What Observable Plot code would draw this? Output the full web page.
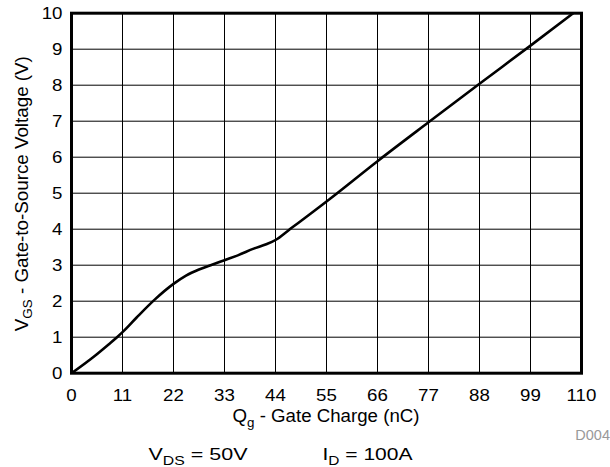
<!DOCTYPE html>
<html><head><meta charset="utf-8">
<script src="https://cdn.jsdelivr.net/npm/d3@7"></script>
<script src="https://cdn.jsdelivr.net/npm/@observablehq/plot@0.6"></script>
<style>
body{margin:0;background:#fff;font-family:"Liberation Sans",Arial,Helvetica,sans-serif;}
#wrap{width:610px;height:467px;}
</style></head><body><div id="wrap"></div>
<script>
const charge  = [0, 5, 8, 10, 11, 14, 18, 22, 24.7, 27.5, 30, 33, 36, 39.3, 42, 44, 46.9, 55.5, 66, 77, 88, 99, 108.2];
const voltage = [0, 0.48, 0.8, 1.02, 1.14, 1.54, 2.05, 2.48, 2.71, 2.88, 3.0, 3.14, 3.28, 3.46, 3.58, 3.7, 3.98, 4.82, 5.89, 6.97, 8.04, 9.1, 10];
const xTicks = [0, 11, 22, 33, 44, 55, 66, 77, 88, 99, 110];
const yTicks = [0, 1, 2, 3, 4, 5, 6, 7, 8, 9, 10];
const xLabel = ["Q", "g", " - Gate Charge (nC)"];
const yLabel = ["V", "GS", " - Gate-to-Source Voltage (V)"];
const note1 = ["V", "DS", " = 50V"];
const note2 = ["I", "D", " = 100A"];
const figId = "D004";

const data = charge.map((c, i) => ({q: c, v: voltage[i]}));
const font = '"Liberation Sans", Arial, Helvetica, sans-serif';

const chart = Plot.plot({
  width: 610,
  height: 467,
  marginLeft: 71,
  marginRight: 29,
  marginTop: 12.7,
  marginBottom: 94.3,
  style: {fontFamily: font, fontSize: "17px", color: "#000", background: "#fff", overflow: "visible"},
  x: {domain: [0, 110]},
  y: {domain: [0, 10]},
  marks: [
    Plot.gridX(xTicks, {stroke: "#000", strokeOpacity: 1, strokeWidth: 1}),
    Plot.gridY(yTicks, {stroke: "#000", strokeOpacity: 1, strokeWidth: 1}),
    Plot.line(data, {x: "q", y: "v", stroke: "#000", strokeWidth: 2.6, curve: "monotone-x", clip: true}),
    Plot.frame({stroke: "#000", strokeWidth: 3}),
    Plot.axisX(xTicks, {tickSize: 0, tickPadding: 16, label: null, fontSize: 17, tickFormat: d => String(d)}),
    Plot.axisY(yTicks, {tickSize: 0, tickPadding: 9, label: null, fontSize: 17, tickFormat: d => String(d)})
  ]
});
document.getElementById("wrap").appendChild(chart);

const sx = chart.scale("x"), sy = chart.scale("y");
const svg = d3.select(chart);
const cx = (sx.range[0] + sx.range[1]) / 2;
const cy = (sy.range[0] + sy.range[1]) / 2;

// widen tick labels slightly (the reference face is wider than Arial)
svg.selectAll("g[aria-label$='tick label'] text").each(function() {
  const L = this.getComputedTextLength();
  d3.select(this).attr("textLength", L * 1.1).attr("lengthAdjust", "spacingAndGlyphs");
});

function subText(g, parts, size, subSize, targetLen) {
  const t = g.append("text").attr("font-family", font).attr("font-size", size).attr("fill", "#000");
  t.append("tspan").text(parts[0]);
  t.append("tspan").attr("font-size", subSize).attr("dy", 4.5).text(parts[1]);
  t.append("tspan").attr("dy", -4.5).text(parts[2]);
  t.attr("textLength", targetLen).attr("lengthAdjust", "spacingAndGlyphs");
  return t;
}

subText(svg, xLabel, 17.5, 12.5, 187).attr("x", cx).attr("y", sy.range[0] + 49.5).attr("text-anchor", "middle");
subText(svg, yLabel, 17.5, 12.5, 275).attr("text-anchor", "middle")
  .attr("transform", `translate(27.5,${cy + 1}) rotate(-90)`);
subText(svg, note1, 17, 12.5, 99).attr("x", 198).attr("y", 460);
subText(svg, note2, 17, 12.5, 90).attr("x", 367.5).attr("y", 460);
svg.append("text").attr("x", 610).attr("y", 440).attr("text-anchor", "end")
  .attr("font-family", font).attr("font-size", 14.5).attr("fill", "#999").text(figId);
</script>
</body></html>
